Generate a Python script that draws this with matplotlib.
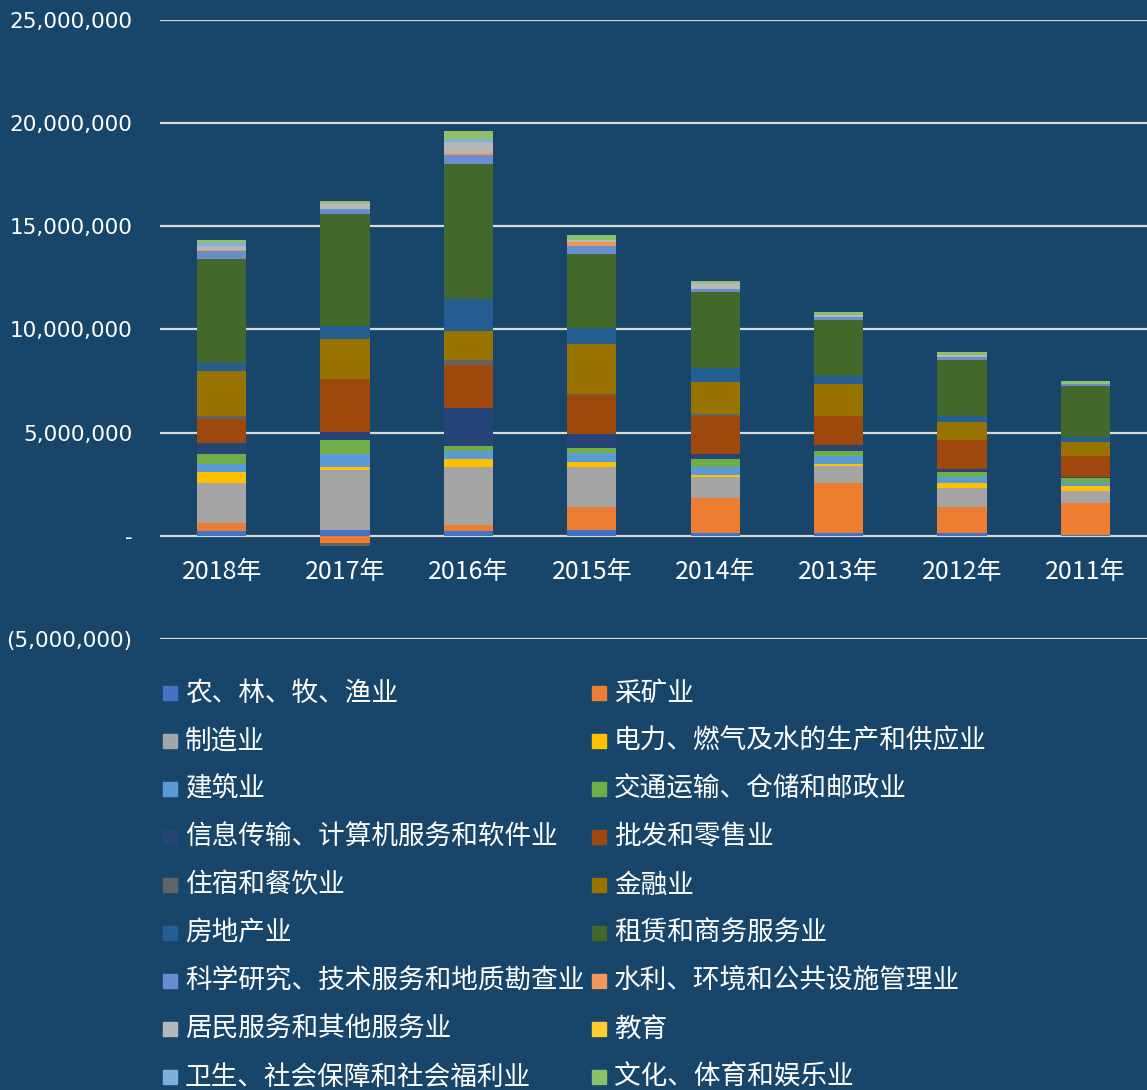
import numpy as np
import matplotlib.pyplot as plt
from matplotlib.patches import Rectangle
from matplotlib.ticker import FuncFormatter

plt.rcParams['font.family'] = ['Noto Sans CJK SC', 'DejaVu Sans']

years = ["2018年", "2017年", "2016年", "2015年", "2014年", "2013年", "2012年", "2011年"]

industries = [
    "农、林、牧、渔业", "采矿业", "制造业", "电力、燃气及水的生产和供应业",
    "建筑业", "交通运输、仓储和邮政业", "信息传输、计算机服务和软件业", "批发和零售业",
    "住宿和餐饮业", "金融业", "房地产业", "租赁和商务服务业",
    "科学研究、技术服务和地质勘查业", "水利、环境和公共设施管理业", "居民服务和其他服务业", "教育",
    "卫生、社会保障和社会福利业", "文化、体育和娱乐业",
]

colors = [
    "#4472C4", "#ED7D31", "#A5A5A5", "#FFC000", "#5B9BD5", "#70AD47",
    "#264478", "#9E480E", "#636363", "#997300", "#255E91", "#43682B",
    "#698ED0", "#F1975A", "#B7B7B7", "#FFCD33", "#7CAFDD", "#8CC168",
]

# values in millions, one list per industry, years 2018 -> 2011
agri      = [0.24, 0.26, 0.24, 0.26, 0.13, 0.13, 0.13, 0.05]
mining    = [0.40, -0.35, 0.27, 1.16, 1.68, 2.45, 1.29, 1.53]
manuf     = [1.94, 2.94, 2.84, 1.94, 1.03, 0.81, 0.92, 0.61]
power     = [0.53, 0.13, 0.39, 0.24, 0.11, 0.11, 0.24, 0.24]
constr    = [0.37, 0.65, 0.37, 0.40, 0.40, 0.39, 0.26, 0.15]
transport = [0.50, 0.65, 0.26, 0.27, 0.37, 0.23, 0.26, 0.24]
it        = [0.53, 0.39, 1.84, 0.65, 0.27, 0.29, 0.13, 0.03]
trade     = [1.15, 2.60, 2.05, 1.90, 1.82, 1.40, 1.42, 1.03]
hotel     = [0.15, -0.13, 0.26, 0.05, 0.11, 0.0, 0.0, 0.0]
finance   = [2.18, 1.90, 1.42, 2.44, 1.53, 1.55, 0.89, 0.65]
realty    = [0.37, 0.66, 1.53, 0.76, 0.68, 0.39, 0.27, 0.26]
leasing   = [5.05, 5.42, 6.57, 3.60, 3.71, 2.71, 2.71, 2.45]
science   = [0.39, 0.26, 0.40, 0.40, 0.13, 0.13, 0.13, 0.13]
water     = [0.05, 0.0, 0.13, 0.15, 0.0, 0.0, 0.0, 0.0]
resident  = [0.19, 0.26, 0.52, 0.13, 0.27, 0.13, 0.13, 0.0]
education = [0.02, 0.0, 0.0, 0.0, 0.0, 0.0, 0.0, 0.0]
health    = [0.11, 0.0, 0.13, 0.0, 0.0, 0.0, 0.0, 0.0]
culture   = [0.16, 0.13, 0.39, 0.24, 0.13, 0.13, 0.13, 0.15]

series = [agri, mining, manuf, power, constr, transport, it, trade, hotel,
          finance, realty, leasing, science, water, resident, education,
          health, culture]

bg = "#17466A"
fig = plt.figure(figsize=(11.47, 10.90), dpi=100, facecolor=bg)
ax = fig.add_axes([160 / 1147, 1 - 639 / 1090, 987 / 1147, 619 / 1090])
ax.set_facecolor(bg)

x = np.arange(len(years))
pos_bottom = np.zeros(len(years))
neg_bottom = np.zeros(len(years))
for vals, c in zip(series, colors):
    v = np.array(vals) * 1e6
    bottom = np.where(v >= 0, pos_bottom, neg_bottom)
    ax.bar(x, v, width=0.40, bottom=bottom, color=c, zorder=3)
    pos_bottom += np.where(v >= 0, v, 0)
    neg_bottom += np.where(v < 0, v, 0)

ax.set_xlim(-0.5, len(years) - 0.5)
ax.set_ylim(-5e6, 25e6)
ax.set_yticks(np.arange(-5e6, 25e6 + 1, 5e6))


def fmt(v, pos):
    if v == 0:
        return "-"
    if v < 0:
        return "({:,.0f})".format(-v)
    return "{:,.0f}".format(v)


ax.yaxis.set_major_formatter(FuncFormatter(fmt))
ax.tick_params(axis="y", length=0, pad=20, labelcolor="white")
for lab in ax.get_yticklabels():
    lab.set_fontfamily("DejaVu Sans")
    lab.set_fontsize(15.5)
ax.set_xticks([])
ax.grid(axis="y", color="#D9D9D9", linewidth=1.6, zorder=1)
for s in ax.spines.values():
    s.set_visible(False)

for i, y in enumerate(years):
    ax.text(i, -1.74e6, y, ha="center", va="center", color="white", fontsize=18)

# legend, two columns filled row by row
for i, (name, c) in enumerate(zip(industries, colors)):
    row, col = divmod(i, 2)
    yc = 693 + 48 * row
    x0 = 163 if col == 0 else 592
    fig.add_artist(Rectangle((x0 / 1147, 1 - (yc + 7) / 1090), 14 / 1147, 14 / 1090,
                             transform=fig.transFigure, color=c))
    fig.text((x0 + 22) / 1147, 1 - yc / 1090, name, color="white", fontsize=19.2,
             va="center", ha="left")

fig.savefig("out.png", dpi=100, facecolor=bg)
